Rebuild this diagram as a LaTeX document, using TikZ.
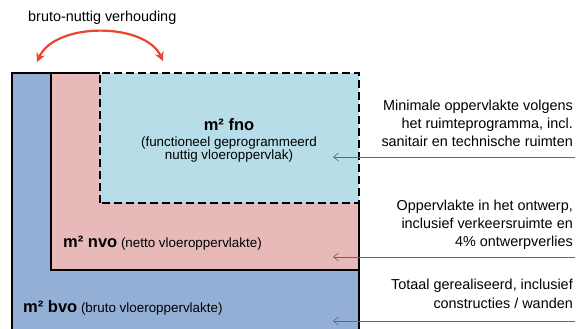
\documentclass[tikz,border=0pt]{standalone}
\usepackage{fontspec}
\setmainfont{Liberation Sans}
\usepackage{xcolor}
\usepackage{tikz}
\usetikzlibrary{calc, arrows.meta}
\definecolor{bvoblue}{RGB}{148,175,214}
\definecolor{nvopink}{RGB}{232,185,185}
\definecolor{fnocyan}{RGB}{183,221,232}
\definecolor{arcred}{RGB}{232,70,50}
\tikzstyle{wall} = [line width=1.6pt]
\tikzstyle{dashwall} = [line width=1.6pt, dash pattern=on 8pt off 4pt]
\tikzstyle{pointer} = [line width=0.6pt, black!60, -{Straight Barb[length=5pt,width=8pt]}]
\tikzstyle{note} = [anchor=base east, inner sep=0pt, font=\fontsize{14.4}{16}\selectfont]
\tikzstyle{label} = [anchor=base, inner sep=0pt, font=\fontsize{13.4}{15}\selectfont]

\begin{document}
\begin{tikzpicture}[x=1pt, y=1pt]
	\useasboundingbox (0,0) rectangle (579,329);
	\clip (0,0) rectangle (579,329);
	
	\coordinate (bvo) at (12,-10);
	\coordinate (nvo) at (51,59);
	\coordinate (fno) at (100,126);
	\coordinate (top) at (359,256);
	
	\coordinate (fnotail) at (575,172);
	\coordinate (nvotail) at (575,72);
	\coordinate (bvotail) at (575,8);
	
	\coordinate (arcL) at (37,267);
	\coordinate (arcR) at (163,268);
	
	\fill[bvoblue] (bvo) rectangle (top);
	\fill[nvopink] (nvo) rectangle (top);
	\fill[fnocyan] (fno) rectangle (top);
	
	\draw[wall] (bvo) |- (fno |- top);
	\draw[wall] (nvo |- top) -- (nvo) -| (top |- fno);
	\draw[wall] (nvo -| top) -- (bvo -| top);
	\draw[dashwall] (fno) rectangle (top);
	
	\draw[arcred, line width=2.2pt, {Stealth[length=9pt,width=9pt]}-{Stealth[length=9pt,width=9pt]}] (arcL) .. controls (55,307) and (145,307) .. (arcR);
	\node[anchor=base west, inner sep=0pt, font=\fontsize{14.4}{16}\selectfont] (ratio) at (28,307) {bruto-nuttig verhouding};
	
	\node[label, font=\fontsize{16.5}{18}\selectfont\bfseries] (fnotitle) at (229,198) {m² fno};
	\node[label] (fnoline1) at ($ (fnotitle.base) + (0,-16) $) {(functioneel geprogrammeerd};
	\node[label] (fnoline2) at ($ (fnoline1.base) + (0,-13) $) {nuttig vloeroppervlak)};
	
	\node[label, anchor=base west] (nvolabel) at (63,81) {\fontsize{16.5}{18}\selectfont\bfseries m² nvo\fontsize{13.4}{15}\mdseries\selectfont{} (netto vloeroppervlakte)};
	\node[label, anchor=base west] (bvolabel) at (23,16) {\fontsize{16.5}{18}\selectfont\bfseries m² bvo\fontsize{13.4}{15}\mdseries\selectfont{} (bruto vloeroppervlakte)};
	
	\draw[pointer] (fnotail) -- ($ (fnotail) + (-242,0) $);
	\draw[pointer] (nvotail) -- ($ (nvotail) + (-242,0) $);
	\draw[pointer] (bvotail) -- ($ (bvotail) + (-242,0) $);
	
	\node[note] (fnonote1) at ($ (fnotail) + (-2,46) $) {Minimale oppervlakte volgens};
	\node[note] (fnonote2) at ($ (fnonote1.base east) + (0,-18) $) {het ruimteprogramma, incl.};
	\node[note] (fnonote3) at ($ (fnonote2.base east) + (0,-18) $) {sanitair en technische ruimten};
	
	\node[note] (nvonote1) at ($ (nvotail) + (-2,46) $) {Oppervlakte in het ontwerp,};
	\node[note] (nvonote2) at ($ (nvonote1.base east) + (0,-18) $) {inclusief verkeersruimte en};
	\node[note] (nvonote3) at ($ (nvonote2.base east) + (0,-18) $) {4\% ontwerpverlies};
	
	\node[note] (bvonote1) at ($ (bvotail) + (-2,31) $) {Totaal gerealiseerd, inclusief};
	\node[note] (bvonote2) at ($ (bvonote1.base east) + (0,-19) $) {constructies / wanden};
	
\end{tikzpicture}
\end{document}
